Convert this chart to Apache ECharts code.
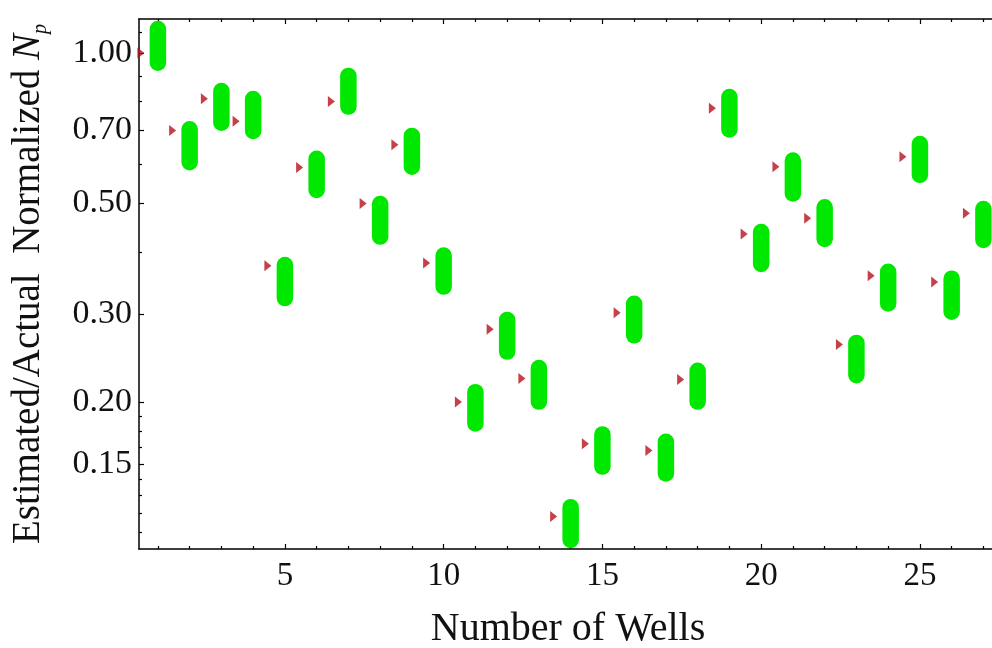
<!DOCTYPE html>
<html>
<head>
<meta charset="utf-8">
<script src="https://cdn.jsdelivr.net/npm/echarts@6/dist/echarts.min.js"></script>
<style>
html,body{margin:0;padding:0;background:#fff;}
#chart{width:992px;height:648px;}
</style>
</head>
<body>
<div id="chart"></div>
<script>
// ---- data ----
const wells = [1,2,3,4,5,6,7,8,9,10,11,12,13,14,15,16,17,18,19,20,21,22,23,24,25,26,27];
const markerValues = [1.00,0.70,0.81,0.73,0.375,0.59,0.80,0.50,0.655,0.38,0.20,0.28,0.223,0.118,0.165,0.302,0.16,0.222,0.775,0.434,0.592,0.467,0.261,0.358,0.62,0.348,0.478];
const rangeLow  = [0.921,0.582,0.698,0.672,0.311,0.512,0.752,0.413,0.570,0.328,0.1745,0.243,0.193,0.102,0.143,0.262,0.1386,0.193,0.677,0.364,0.504,0.4085,0.218,0.3035,0.549,0.292,0.4066];
const rangeHigh = [1.16,0.731,0.872,0.840,0.391,0.638,0.935,0.518,0.709,0.4085,0.2175,0.3035,0.243,0.128,0.179,0.327,0.173,0.240,0.848,0.455,0.633,0.510,0.273,0.379,0.683,0.367,0.506];
const yMajorTicks = [0.15,0.20,0.30,0.50,0.70,1.00];
const yMinorTicks = [1.1,0.9,0.8,0.6,0.4,0.1875,0.175,0.1625,0.14,0.13,0.12,0.11];
const xMajorTicks = [5,10,15,20,25];
const xMinorTicks = [1,2,3,4,6,7,8,9,11,12,13,14,16,17,18,19,21,22,23,24,26,27];
const xTitle = 'Number of Wells';
const yTitleMain = 'Estimated/Actual  Normalized ';

const X_MIN = 0.405, X_MAX = 27.428, Y_MIN = 0.1016, Y_MAX = 1.17;
const FONT = "'Liberation Serif','Times New Roman',serif";

const chart = echarts.init(document.getElementById('chart'));

function xAxisDef(pos, ticks, len, showLine, showLabel, extra) {
  return Object.assign({
    type: 'value', position: pos, min: X_MIN, max: X_MAX,
    axisLine: {show: showLine, onZero: false, lineStyle: {color: '#000', width: 1.5}},
    axisTick: {show: true, inside: true, length: len, customValues: ticks, lineStyle: {color: '#000', width: 1.2}},
    axisLabel: {show: showLabel, customValues: ticks, fontFamily: FONT, fontSize: 33, color: '#111', margin: 11},
    splitLine: {show: false}
  }, extra || {});
}
function yAxisDef(ticks, len, showLine, showLabel, extra) {
  return Object.assign({
    type: 'log', logBase: 10, position: 'left', min: Y_MIN, max: Y_MAX,
    axisLine: {show: showLine, onZero: false, lineStyle: {color: '#000', width: 1.5}},
    axisTick: {show: true, inside: true, length: len, customValues: ticks, lineStyle: {color: '#000', width: 1.2}},
    axisLabel: {show: showLabel, customValues: ticks, fontFamily: FONT, fontSize: 34, color: '#111', margin: 7,
      formatter: v => Number(v).toFixed(2)},
    splitLine: {show: false}
  }, extra || {});
}

const capsuleData = wells.map((w, i) => [w, rangeLow[i], rangeHigh[i]]);
const markerData = wells.map((w, i) => [w, markerValues[i]]);

chart.setOption({
  animation: false,
  backgroundColor: '#fff',
  grid: {left: 139, top: 19, right: -5, bottom: 99, containLabel: false, outerBoundsMode: 'none'},
  xAxis: [
    xAxisDef('bottom', xMajorTicks, 5, true, true, {
      name: xTitle, nameLocation: 'middle', nameGap: 60,
      nameTextStyle: {fontFamily: FONT, fontSize: 40, color: '#111'}
    }),
    xAxisDef('bottom', xMinorTicks, 3, false, false),
    xAxisDef('top', xMajorTicks, 5, true, false),
    xAxisDef('top', xMinorTicks, 3, false, false)
  ],
  yAxis: [
    yAxisDef(yMajorTicks, 5, true, true, {
      name: '{a|' + yTitleMain + '}{i|N}{s|p}', nameLocation: 'middle', nameGap: 88, nameRotate: 90,
      nameTextStyle: {
        fontFamily: FONT, color: '#111',
        rich: {
          a: {fontFamily: FONT, fontSize: 39, color: '#111', lineHeight: 44},
          i: {fontFamily: FONT, fontSize: 39, fontStyle: 'italic', color: '#111', lineHeight: 44},
          s: {fontFamily: FONT, fontSize: 20, fontStyle: 'italic', color: '#111', lineHeight: 14, verticalAlign: 'bottom'}
        }
      }
    }),
    yAxisDef(yMinorTicks, 3, false, false)
  ],
  series: [
    {
      type: 'custom', xAxisIndex: 0, yAxisIndex: 0,
      data: capsuleData,
      renderItem: function (params, api) {
        const x = api.value(0), lo = api.value(1), hi = api.value(2);
        const pTop = api.coord([x, hi]);
        const pBot = api.coord([x, lo]);
        const w = 16.5;
        return {
          type: 'rect',
          shape: {x: pTop[0] - w / 2, y: pTop[1], width: w, height: pBot[1] - pTop[1], r: w / 2},
          style: {fill: '#00e800'}
        };
      },
      z: 2
    },
    {
      type: 'scatter', xAxisIndex: 0, yAxisIndex: 0,
      data: markerData,
      symbol: 'path://M0,0 L10,6 L0,12 Z',
      symbolSize: [7, 11],
      symbolOffset: [-17, 0],
      itemStyle: {color: '#b8101c'},
      z: 3
    }
  ]
});
</script>
</body>
</html>
